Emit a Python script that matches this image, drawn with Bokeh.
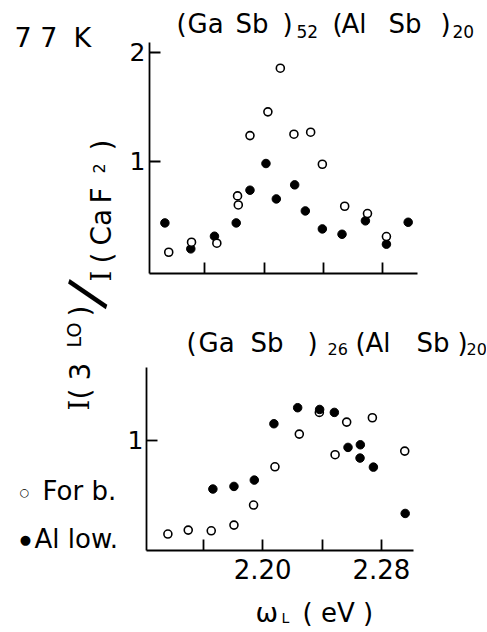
from bokeh.plotting import figure
from bokeh.models import Range1d, FixedTicker, Label
from bokeh.layouts import column, row
from bokeh.embed import file_html
from bokeh.resources import INLINE

# ---------------- data ----------------
top_allow_x = [2.1330, 2.1505, 2.1665, 2.1812, 2.1905, 2.2013, 2.2083, 2.2207, 2.2279, 2.2394, 2.2527, 2.2685, 2.2827, 2.2974]
top_allow_y = [0.434, 0.196, 0.312, 0.434, 0.734, 0.979, 0.654, 0.783, 0.544, 0.379, 0.330, 0.453, 0.239, 0.440]
top_forb_x = [2.1356, 2.1510, 2.1681, 2.1821, 2.1826, 2.1905, 2.2026, 2.2110, 2.2202, 2.2315, 2.2394, 2.2545, 2.2699, 2.2827]
top_forb_y = [0.165, 0.257, 0.248, 0.682, 0.599, 1.235, 1.453, 1.853, 1.248, 1.266, 0.972, 0.587, 0.520, 0.309]
bot_forb_x = [2.1362, 2.1499, 2.1654, 2.1807, 2.1939, 2.2083, 2.2247, 2.2382, 2.2488, 2.2566, 2.2739, 2.2957]
bot_forb_y = [0.141, 0.177, 0.171, 0.223, 0.407, 0.758, 1.058, 1.257, 0.869, 1.168, 1.208, 0.902]
bot_allow_x = [2.1665, 2.1807, 2.1944, 2.2076, 2.2236, 2.2384, 2.2483, 2.2575, 2.2658, 2.2656, 2.2746, 2.2960]
bot_allow_y = [0.554, 0.578, 0.636, 1.153, 1.300, 1.284, 1.257, 0.936, 0.960, 0.838, 0.755, 0.330]

x_ticks = [2.16, 2.20, 2.24, 2.28]
x_tick_labels = ["", "2.20", "", "2.28"]
top_y_ticks = [1, 2]
bot_y_ticks = [1]
legend_labels = ["For b.", "Al low."]

FONT = "DejaVu Sans"
SERIF = "DejaVu Serif"

TX = (2.1226, 2.3037)
TY = (-0.03, 2.089)
BX = (2.1218, 2.3016)
BY = (-0.01, 1.669)

# page layout in page pixels (the page has no margin)
LEFT_W = 123          # text column, x 0..123
RIGHT_W = 363         # panel column, x 123..486
RX = LEFT_W


def panel(xr, yr, h, bl, br, bb, yticks, standoff):
    p = figure(width=RIGHT_W, height=h, x_range=Range1d(*xr), y_range=Range1d(*yr),
               output_backend="svg", toolbar_location=None, frame_align=False, title=None,
               min_border_left=bl, min_border_right=br, min_border_top=0, min_border_bottom=bb)
    p.grid.visible = False
    p.outline_line_color = None
    for ax in p.axis:
        ax.axis_line_width = 1.8
        ax.axis_line_color = "black"
        ax.major_tick_in = 11
        ax.major_tick_out = 0
        ax.major_tick_line_width = 1.8
        ax.major_tick_line_color = "black"
        ax.minor_tick_line_color = None
        ax.major_label_text_font = FONT
        ax.major_label_text_color = "black"
    p.xaxis.ticker = FixedTicker(ticks=x_ticks)
    p.xaxis.major_label_text_font_size = "26px"
    p.yaxis.ticker = FixedTicker(ticks=yticks)
    p.yaxis.major_label_text_font_size = "25px"
    p.yaxis.major_label_standoff = standoff
    return p


def text_fig(w, h):
    f = figure(width=w, height=h, x_range=Range1d(0, w), y_range=Range1d(h, 0),
               output_backend="svg", toolbar_location=None, min_border=0, frame_align=False,
               title=None, x_axis_type=None, y_axis_type=None)
    f.grid.visible = False
    f.outline_line_color = None
    return f


def put(f, x0, y0, txt, px, py, size, angle=0, font=FONT, align="left", baseline="alphabetic"):
    # (px, py) is the wanted baseline point in page pixels; correct for how the
    # label is anchored (it sits about 0.37 em lower than the alphabetic baseline)
    if baseline == "alphabetic":
        if angle == 90:
            px -= 0.37 * size
        else:
            py -= 0.37 * size
    f.add_layout(Label(x=px - x0, y=py - y0, text=txt, angle=angle, angle_units="deg",
                       text_font=font, text_font_size=f"{size}px", text_color="black",
                       text_align=align, text_baseline=baseline))


# ---- top title row: y 0..42
t1 = text_fig(RIGHT_W, 42)
for t, x, y, s in [("(", 176, 33, 26), ("Ga", 187, 33, 26), ("Sb", 235, 33, 26), (")", 282, 33, 26),
                   ("52", 296, 37, 17), ("(", 332, 33, 26), ("Al", 341, 33, 26), ("Sb", 388, 33, 26),
                   (")", 440, 33, 26), ("20", 452, 37, 17)]:
    put(t1, RX, 0, t, x, y, s)

# ---- top panel: y 42..326, frame x 149..417, y 42..273
p1 = panel(TX, TY, 284, 149 - RX, 486 - 417, 53, top_y_ticks, 4)
p1.xaxis.major_label_overrides = {t: "" for t in x_ticks}
p1.xaxis.major_label_text_font_size = "1px"
p1.scatter(top_allow_x, top_allow_y, size=8.5, marker="circle", fill_color="black", line_color="black")
p1.scatter(top_forb_x, top_forb_y, size=8, marker="circle", fill_color="white", line_color="black", line_width=1.6)

# ---- bottom title row: y 326..367
t2 = text_fig(RIGHT_W, 41)
for t, x, y, s in [("(", 186, 352, 26), ("Ga", 198, 352, 26), ("Sb", 250, 352, 26), (")", 307, 352, 26),
                   ("26", 327, 354, 16), ("(", 355, 352, 26), ("Al", 365, 352, 26), ("Sb", 416, 352, 26),
                   (")", 457, 352, 26), ("20", 466, 354, 16)]:
    put(t2, RX, 326, t, x, y, s)

# ---- bottom panel: y 367..594, frame x 146..413, y 367..550
p2 = panel(BX, BY, 227, 146 - RX, 486 - 413, 44, bot_y_ticks, 3)
p2.xaxis.major_label_overrides = dict(zip(x_ticks, x_tick_labels))
p2.xaxis.major_label_standoff = 8
p2.scatter(bot_forb_x, bot_forb_y, size=8, marker="circle", fill_color="white", line_color="black", line_width=1.6)
p2.scatter(bot_allow_x, bot_allow_y, size=8.5, marker="circle", fill_color="black", line_color="black")

# ---- x label row: y 594..630
xl = text_fig(RIGHT_W, 36)
put(xl, RX, 594, "\u03c9", 255, 622, 27)
put(xl, RX, 594, "L", 281, 623, 14)
put(xl, RX, 594, "( eV )", 302, 622, 26)

# ---- left text column: x 0..123, y 0..630
lf = text_fig(LEFT_W, 630)
put(lf, 0, 0, "7 7", 14, 47, 27)
put(lf, 0, 0, "K", 73, 47, 27)
# rotated y label  I(3LO) / I(CaF2)
for t, x, y, s, f in [("I", 111, 281, 27, SERIF), ("(", 112, 263, 28, FONT), ("Ca", 111, 245, 28, FONT),
                      ("F", 111, 203, 28, FONT), ("2", 104, 173, 16, FONT), (")", 112, 150, 28, FONT)]:
    put(lf, 0, 0, t, x, y, s, angle=90, font=f)
put(lf, 0, 0, "/", 88, 294, 60, angle=71, font="Liberation Sans", align="center", baseline="middle")
for t, x, y, s, f in [("I", 89, 410, 27, SERIF), ("(", 90, 399, 28, FONT), ("3", 89, 380, 28, FONT),
                      ("LO", 81, 347, 19, FONT), (")", 90, 316, 28, FONT)]:
    put(lf, 0, 0, t, x, y, s, angle=90, font=f)
# legend
put(lf, 0, 0, "\u25cb", 24, 492, 11, align="center", baseline="middle")
put(lf, 0, 0, legend_labels[0], 42, 500, 26)
put(lf, 0, 0, "\u25cf", 25, 539, 13, align="center", baseline="middle")
put(lf, 0, 0, legend_labels[1], 34, 548, 26)

layout = row(lf, column(t1, p1, t2, p2, xl, spacing=0), spacing=0)
open("out.html", "w").write(file_html(layout, INLINE))
